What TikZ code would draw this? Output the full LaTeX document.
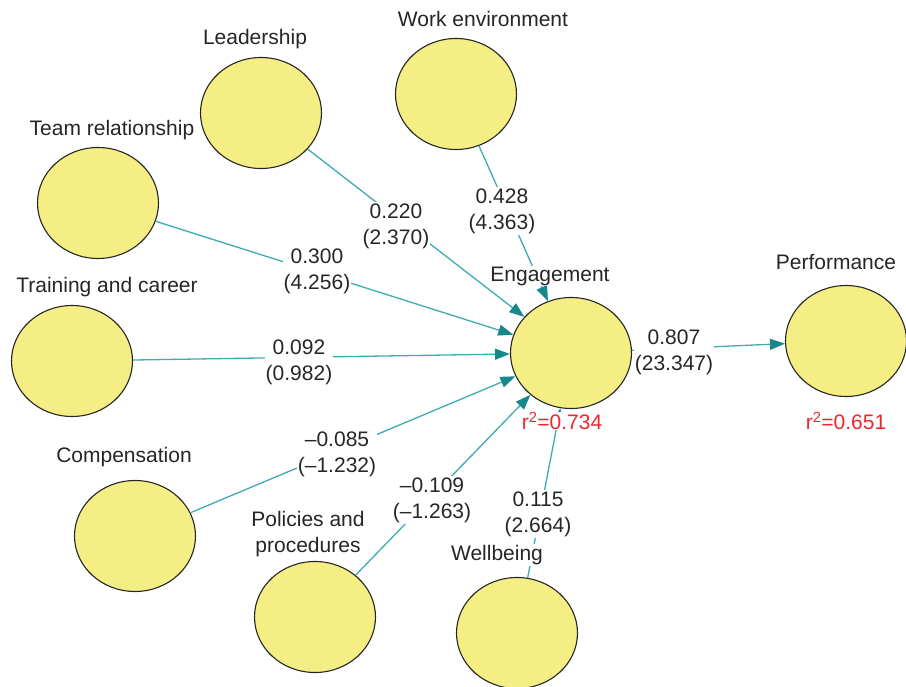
\documentclass[tikz,border=0pt]{standalone}
\usepackage{fontspec}
\setmainfont{Liberation Sans}
\usetikzlibrary{shapes.geometric,arrows.meta}
\definecolor{nodeyellow}{RGB}{244,238,132}
\definecolor{linkteal}{RGB}{62,172,176}
\definecolor{tipteal}{RGB}{22,136,138}
\definecolor{rsqred}{RGB}{236,40,46}

\begin{document}
\begin{tikzpicture}
[every node/.style={inner sep=0pt, font=\fontsize{21}{26}\selectfont},
 construct/.style={ellipse, minimum width=121pt, minimum height=111pt, fill=nodeyellow, line width=1.1pt, draw=black!85},
 title/.style={fill=white, inner sep=1pt, text=black!85},
 coef/.style={fill=white, inner sep=1pt, align=center, text=black!85},
 rsq/.style={fill=white, inner sep=0.5pt, text=rsqred},
 link/.style={line width=1.3pt, color=linkteal, -{Triangle[length=15pt, width=11pt, color=tipteal]}}]
\useasboundingbox (0pt, 0pt) rectangle (906pt, -687pt);
\node (lead) [construct] at (261pt, -113pt) {};
\node (work) [construct] at (456pt, -94pt) {};
\node (team) [construct] at (98pt, -203pt) {};
\node (train) [construct] at (72pt, -361pt) {};
\node (comp) [construct] at (135pt, -536pt) {};
\node (policy) [construct] at (315pt, -617pt) {};
\node (well) [construct] at (517pt, -633pt) {};
\node (engage) [construct] at (571pt, -353pt) {};
\node (perf) [construct] at (846pt, -341pt) {};
\draw [link] (lead) to (engage);
\draw [link] (work) to (engage);
\draw [link] (team) to (engage);
\draw [link] (train) to (engage);
\draw [link] (comp) to (engage);
\draw [link] (policy) to (engage);
\draw [link] (well) to (engage);
\draw [link] (engage) to (perf);
\node (leadT) [title] at (255pt, -39pt) {Leadership};
\node (workT) [title] at (483pt, -19pt) {Work environment};
\node (teamT) [title] at (112pt, -130pt) {Team relationship};
\node (trainT) [title] at (107pt, -287pt) {Training and career};
\node (compT) [title] at (124pt, -457pt) {Compensation};
\node (policyT) [title, align=center] at (308pt, -534pt) {Policies and\\procedures};
\node (wellT) [title] at (497pt, -555pt) {Wellbeing};
\node (engageT) [title] at (550pt, -276pt) {Engagement};
\node (perfT) [title] at (836pt, -262pt) {Performance};
\node (leadC) [coef] at (396pt, -226pt) {0.220\\(2.370)};
\node (workC) [coef] at (502pt, -211pt) {0.428\\(4.363)};
\node (teamC) [coef] at (317pt, -271pt) {0.300\\(4.256)};
\node (trainC) [coef] at (299pt, -362pt) {0.092\\(0.982)};
\node (compC) [coef] at (337pt, -454pt) {–0.085\\(–1.232)};
\node (policyC) [coef] at (432pt, -500pt) {–0.109\\(–1.263)};
\node (wellC) [coef] at (538pt, -514pt) {0.115\\(2.664)};
\node (perfC) [coef] at (674pt, -352pt) {0.807\\(23.347)};
\node (engageR) [rsq] at (562pt, -421pt) {r\textsuperscript{2}=0.734};
\node (perfR) [rsq] at (846pt, -421pt) {r\textsuperscript{2}=0.651};
\end{tikzpicture}
\end{document}
